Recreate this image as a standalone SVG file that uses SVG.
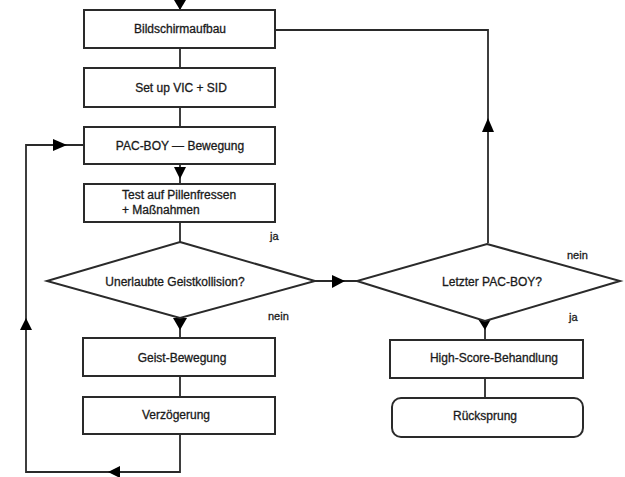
<svg xmlns="http://www.w3.org/2000/svg" width="625" height="477" viewBox="0 0 625 477">
<style>
.box{fill:#fff;stroke:#2a2a2a;stroke-width:2}
.ln{fill:none;stroke:#2a2a2a;stroke-width:1.8}
.ah{fill:#000}
text{font-family:"Liberation Sans",Arial,sans-serif;font-size:12px;fill:#1a1a1a;stroke:#1a1a1a;stroke-width:0.3}
.c{text-anchor:middle}
.s{font-size:11px}
</style>
<rect width="625" height="477" fill="#fff"/>
<g id="connectors">
<path class="ln" d="M180 0V10"/>
<path class="ln" d="M180 48V68M180 107V127M180 164V184M180 222V242"/>
<path class="ln" d="M275 30H488V243"/>
<path class="ln" d="M84 145H26V472H180V434"/>
<path class="ln" d="M180 318V338M180 376V397"/>
<path class="ln" d="M315 281H357"/>
<path class="ln" d="M485 321V340M485 378V398"/>
<polygon class="ah" points="174,0 186,0 180,10"/>
<polygon class="ah" points="53,139 53,151 67,145"/>
<polygon class="ah" points="174,167 186,167 180,179"/>
<polygon class="ah" points="482,132 494,132 488,118"/>
<polygon class="ah" points="332,275 332,288 345,281"/>
<polygon class="ah" points="20,330 32,330 26,318"/>
<polygon class="ah" points="120,466 120,478 108,472"/>
<polygon class="ah" points="173,318 187,318 180,330"/>
<polygon class="ah" points="478,319 491,319 485,330"/>
</g>
<g id="n1"><rect class="box" x="84" y="10" width="191" height="38"/><text class="c" x="180" y="33">Bildschirmaufbau</text></g>
<g id="n2"><rect class="box" x="84" y="68" width="191" height="39"/><text class="c" x="181" y="92">Set up VIC + SID</text></g>
<g id="n3"><rect class="box" x="84" y="127" width="191" height="37"/><text class="c" x="180" y="150">PAC-BOY — Bewegung</text></g>
<g id="n4"><rect class="box" x="84" y="184" width="191" height="38"/><text x="122" y="199">Test auf Pillenfressen</text><text x="122" y="214">+ Maßnahmen</text></g>
<g id="n5"><polygon class="box" points="180,242 315,281 180,318 47,281"/><text class="c" x="175" y="286">Unerlaubte Geistkollision?</text></g>
<g id="n6"><rect class="box" x="83" y="338" width="192" height="38"/><text class="c" x="182" y="362">Geist-Bewegung</text></g>
<g id="n7"><rect class="box" x="83" y="397" width="192" height="37"/><text class="c" x="176" y="419">Verzögerung</text></g>
<g id="n8"><polygon class="box" points="487,244 620,281 485,321 357,281"/><text class="c" x="492" y="286">Letzter PAC-BOY?</text></g>
<g id="n9"><rect class="box" x="390" y="340" width="193" height="38"/><text class="c" x="494" y="362">High-Score-Behandlung</text></g>
<g id="n10"><rect class="box" x="392" y="398" width="191" height="39" rx="9"/><text class="c" x="485" y="420">Rücksprung</text></g>
<g id="labels">
<text class="s" x="270" y="240">ja</text>
<text class="s" x="268" y="320">nein</text>
<text class="s" x="567" y="259">nein</text>
<text class="s" x="569" y="321">ja</text>
</g>
</svg>
